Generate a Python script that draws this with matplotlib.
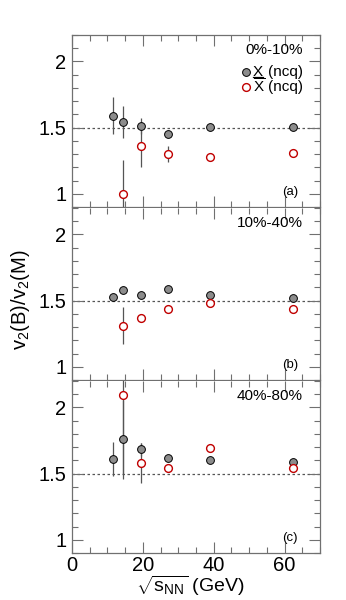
import numpy as np
import matplotlib
matplotlib.use("Agg")
import matplotlib.pyplot as plt
from matplotlib.ticker import MultipleLocator
from matplotlib.lines import Line2D

plt.rcParams["font.family"] = ["Liberation Sans", "DejaVu Sans"]
plt.rcParams["mathtext.fontset"] = "custom"
plt.rcParams["mathtext.rm"] = "Liberation Sans"
plt.rcParams["mathtext.it"] = "Liberation Sans"

# beam energies (GeV)
energy = [11.5, 14.5, 19.6, 27, 39, 62.4]

centralities = ["0%-10%", "10%-40%", "40%-80%"]
panel_tags = ["(a)", "(b)", "(c)"]

# v2(B)/v2(M) for particles (X) and antiparticles (Xbar), per centrality
x_vals = [
    [1.59, 1.54, 1.51, 1.455, 1.505, 1.505],
    [1.53, 1.58, 1.545, 1.585, 1.545, 1.52],
    [1.61, 1.76, 1.685, 1.615, 1.605, 1.59],
]
x_errs = [
    [0.14, 0.12, 0.06, 0.0, 0.0, 0.0],
    [0.0, 0.0, 0.0, 0.0, 0.0, 0.0],
    [0.13, 0.30, 0.05, 0.0, 0.0, 0.0],
]
xbar_vals = [
    [None, 0.995, 1.36, 1.30, 1.28, 1.31],
    [None, 1.31, 1.37, 1.435, 1.483, 1.435],
    [None, 2.095, 1.58, 1.54, 1.69, 1.54],
]
xbar_errs = [
    [0, 0.26, 0.16, 0.06, 0.0, 0.0],
    [0, 0.14, 0.0, 0.0, 0.0, 0.0],
    [0, 0.60, 0.15, 0.0, 0.0, 0.0],
]

FRAME = "#707070"
X_STYLE = dict(marker="o", ms=5.6, mfc="#8c8c8c", mec="black", mew=0.7, ls="none")
XB_STYLE = dict(marker="o", ms=5.6, mfc="white", mec="#c00000", mew=1.0, ls="none")

fig = plt.figure(figsize=(3.46, 6.0), dpi=100)
left, right = 72 / 346, 320 / 346
tops = [35, 208, 381]
h = 172

axes = []
for i in range(3):
    ax = fig.add_axes([left, 1 - (tops[i] + h) / 600, right - left, h / 600])
    axes.append(ax)
    ax.set_xlim(0, 70)
    ax.set_ylim(0.9, 2.2)
    ax.axhline(1.5, color="#555555", ls=(0, (2, 2)), lw=0.9, zorder=1)

    ax.errorbar(energy, x_vals[i], yerr=x_errs[i], fmt="none", ecolor="#555555",
                elinewidth=0.9, zorder=2)
    ax.plot(energy, x_vals[i], zorder=3, **X_STYLE)

    bx = [e for e, v in zip(energy, xbar_vals[i]) if v is not None]
    bv = [v for v in xbar_vals[i] if v is not None]
    be = [err for err, v in zip(xbar_errs[i], xbar_vals[i]) if v is not None]
    ax.errorbar(bx, bv, yerr=be, fmt="none", ecolor="#555555",
                elinewidth=0.9, zorder=2)
    ax.plot(bx, bv, zorder=4, **XB_STYLE)

    ax.yaxis.set_minor_locator(MultipleLocator(0.1))
    ax.xaxis.set_major_locator(MultipleLocator(20))
    ax.xaxis.set_minor_locator(MultipleLocator(5))
    ax.tick_params(which="both", direction="in", top=True, right=True,
                   color=FRAME, labelsize=14.5)
    ax.tick_params(axis="x", pad=2)
    ax.tick_params(axis="y", pad=4)
    ax.tick_params(which="major", length=8, width=0.8)
    ax.tick_params(which="minor", length=4, width=0.8)
    ax.set_yticks([1, 1.5, 2])
    ax.set_yticklabels(["1", "1.5", "2"])
    for s in ax.spines.values():
        s.set_color(FRAME)
        s.set_linewidth(0.9)
    if i > 0:
        ax.spines["top"].set_visible(False)
    if i < 2:
        ax.set_xticklabels([])

    ax.text(0.93, 0.91, centralities[i], transform=ax.transAxes, ha="right",
            va="center", fontsize=11)
    ax.text(0.88, 0.09, panel_tags[i], transform=ax.transAxes, ha="center",
            va="center", fontsize=9.5)

# legend in panel (a), drawn by hand so the X can be underlined
ax = axes[0]
ax.add_line(Line2D([0.70], [0.785], transform=ax.transAxes, clip_on=False, **X_STYLE))
ax.add_line(Line2D([0.70], [0.698], transform=ax.transAxes, clip_on=False, **XB_STYLE))
tx = ax.text(0.728, 0.785, "X", transform=ax.transAxes, ha="left", va="center", fontsize=11)
ax.text(0.728, 0.698, r"$\overline{\rm X}$", transform=ax.transAxes, ha="left",
        va="center", fontsize=11)
ax.text(0.79, 0.785, "(ncq)", transform=ax.transAxes, ha="left", va="center", fontsize=11)
ax.text(0.79, 0.698, "(ncq)", transform=ax.transAxes, ha="left", va="center", fontsize=11)
fig.canvas.draw()
bb = tx.get_window_extent().transformed(ax.transAxes.inverted())
ax.plot([bb.x0, bb.x1], [bb.y0 + 0.012, bb.y0 + 0.012], color="black", lw=0.9,
        transform=ax.transAxes, clip_on=False)

fig.text(0.55, 2 / 600, r"$\sqrt{s_{\rm NN}}$ (GeV)", ha="center", va="bottom",
         fontsize=14)
fig.text(0.058, 0.5, r"v$_2$(B)/v$_2$(M)", rotation=90, ha="center",
         va="center", fontsize=14.5)

fig.savefig("out.png", dpi=100, facecolor="white")
